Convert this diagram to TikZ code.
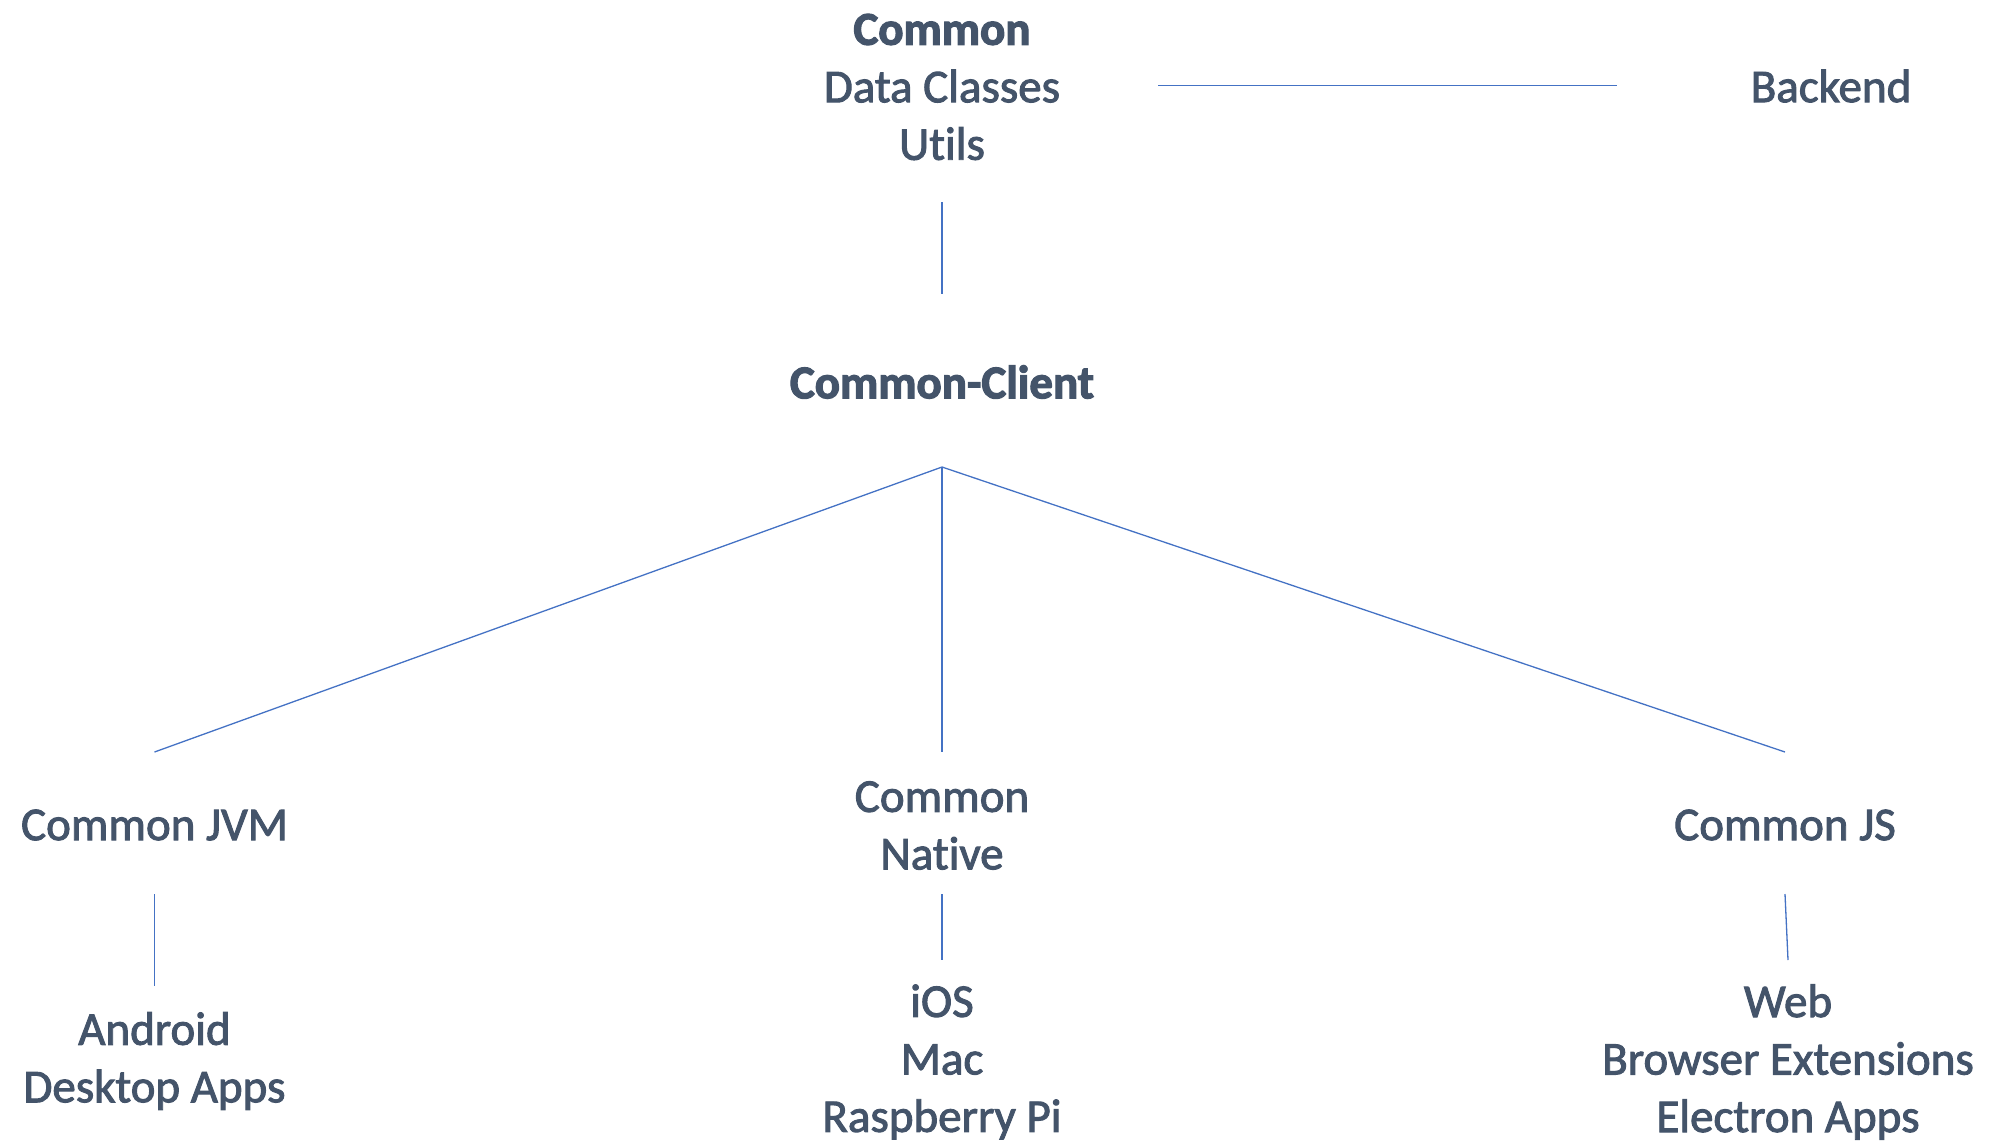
\documentclass[tikz,border=0pt]{standalone}
\usepackage{fontspec}
\setmainfont{Carlito}[RawFeature=-liga,FakeBold=2,BoldFeatures={FakeBold=2.5}]
\definecolor{txt}{HTML}{44546A}
\definecolor{ln}{HTML}{4472C4}
\begin{document}
\begin{tikzpicture}[x=0.5pt,y=-0.5pt,
  lbl/.style={text=txt,align=center,inner sep=0pt,font=\fontsize{23.5}{28.75}\selectfont},
  conn/.style={draw=ln,line width=0.65pt}]
\useasboundingbox (0,0) rectangle (2002,1142);
\node[lbl] (common) at (942,87) {\textbf{Common}\\Data Classes\\Utils};
\node[lbl] (backend) at (1831,86) {Backend};
\node[lbl,font=\bfseries\fontsize{23.5}{28.75}\selectfont] (client) at (942,382) {Common-Client};
\node[lbl] (jvm) at (154.5,825) {Common JVM};
\node[lbl] (native) at (942,825.5) {Common\\Native};
\node[lbl] (js) at (1785,825) {Common JS};
\node[lbl] (android) at (154.5,1061) {Android\\Desktop Apps};
\node[lbl] (ios) at (942,1062) {iOS\\Mac\\Raspberry Pi};
\node[lbl] (web) at (1788,1062) {Web\\Browser Extensions\\Electron Apps};
% connector end points
\coordinate (cbR) at (1158,85.5);
\coordinate (bkL) at (1617,85.5);
\coordinate (cmB) at (942,202);
\coordinate (clT) at (942,294);
\coordinate (fan) at (942,467);
\coordinate (jvmT) at (154.5,752);
\coordinate (natT) at (942,752);
\coordinate (jsT) at (1785,752);
\coordinate (jvmB) at (154.5,894);
\coordinate (andT) at (154.5,986);
\coordinate (natB) at (942,894);
\coordinate (iosT) at (942,960);
\coordinate (jsB) at (1785,894);
\coordinate (webT) at (1788,960);
\draw[conn] (cbR) -- (bkL);
\draw[conn] (cmB) -- (clT);
\draw[conn] (fan) -- (jvmT);
\draw[conn] (fan) -- (natT);
\draw[conn] (fan) -- (jsT);
\draw[conn] (jvmB) -- (andT);
\draw[conn] (natB) -- (iosT);
\draw[conn] (jsB) -- (webT);
\end{tikzpicture}
\end{document}
